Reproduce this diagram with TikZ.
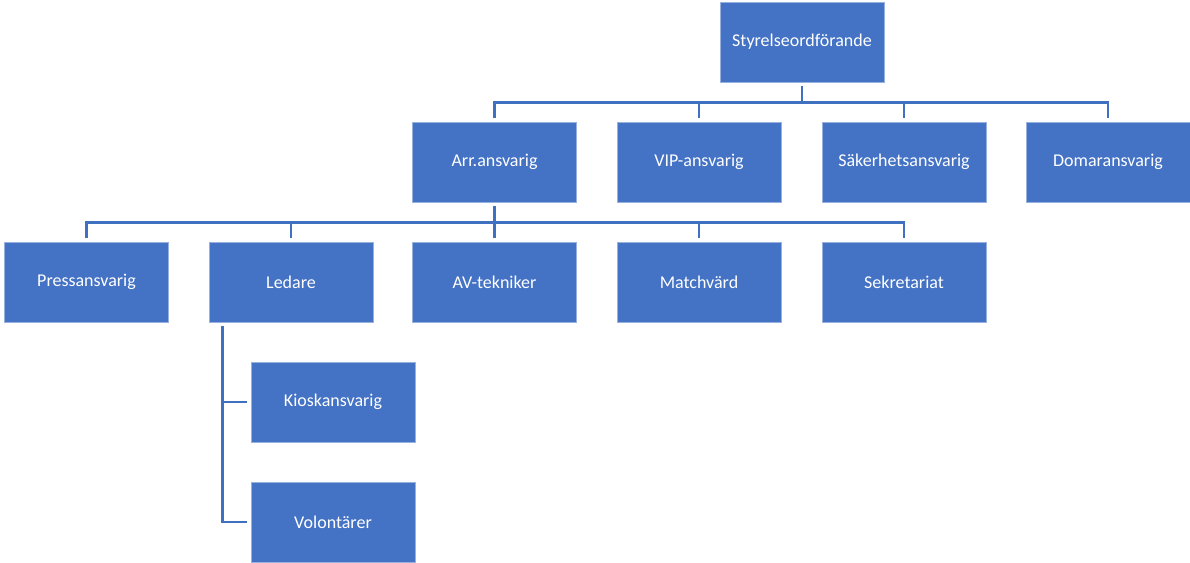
\documentclass[tikz,border=0pt]{standalone}
\usepackage{fontspec}
\setmainfont{Carlito}
\definecolor{obox}{HTML}{4472C4}
\definecolor{oline}{HTML}{4070C0}
\begin{document}
\begin{tikzpicture}[x=1pt,y=-1pt,
  box/.style={draw=obox!55!white, line width=0.8pt, fill=obox, text=white,
    minimum width=164pt, minimum height=80pt, inner sep=0pt,
    font=\fontsize{18}{20}\selectfont},
  conn/.style={draw=oline, line width=2.6pt, shorten <=4pt, shorten >=4pt}]
\useasboundingbox (0,0) rectangle (1190,562);
\node[box] (sty) at (802,42) {Styrelseordförande};
\node[box] (arr) at (494.5,162) {Arr.ansvarig};
\node[box] (vip) at (699,162) {VIP-ansvarig};
\node[box] (sak) at (904,162) {Säkerhetsansvarig};
\node[box] (dom) at (1108,162) {Domaransvarig};
\node[box] (pre) at (86.5,282) {Pressansvarig};
\node[box] (led) at (291,282) {Ledare};
\node[box] (avt) at (494.5,282) {AV-tekniker};
\node[box] (mat) at (699,282) {Matchvärd};
\node[box] (sek) at (904,282) {Sekretariat};
\node[box] (kio) at (333,402) {Kioskansvarig};
\node[box] (vol) at (333,522) {Volontärer};
\foreach \c in {arr,vip,sak,dom}
  \draw[conn] (sty.south) -- ++(0,20) -| (\c.north);
\foreach \c in {pre,led,avt,mat,sek}
  \draw[conn] (arr.south) -- ++(0,20) -| (\c.north);
\coordinate (lv) at ([xshift=14pt]led.south west);
\draw[conn] (lv) |- (kio.west);
\draw[conn] (lv) |- (vol.west);
\end{tikzpicture}
\end{document}
